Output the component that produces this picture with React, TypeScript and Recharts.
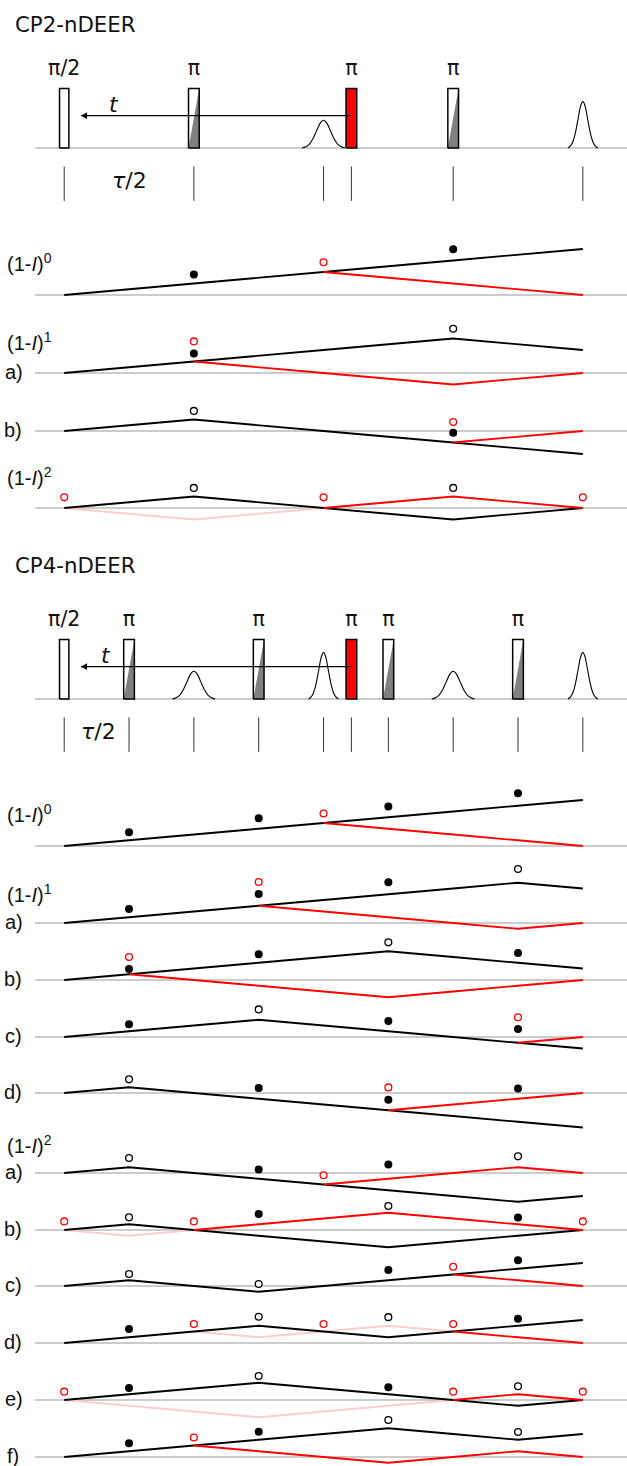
import { ComposedChart, Area, Line, XAxis, YAxis, ReferenceLine } from "recharts";

const WIDTH = 627;
const HEIGHT = 1466;

// horizontal layout: time step 0 sits at x0, every step is stepPx wide
const x0 = 64.2;
const stepPx = 64.83;
const timeDomain = [-x0 / stepPx, (WIDTH - x0) / stepPx];
const timeToPx = (t: number) => x0 + t * stepPx;

const BLACK = "#000000";
const RED = "#ff0000";
const PALE = "#ffcccc";
const RULE = "#999999";

type Path = (number | null)[];

// ---- CP2 -----------------------------------------------------------------
const cp2Times = [0, 2, 4, 6, 8];
const cp2Baselines = [294.5, 373.4, 431, 508.4];
const cp2Black: Path[] = [
  [0, 2, 4, 6, 8],
  [0, 2, 4, 6, 4],
  [0, 2, 0, -2, -4],
  [0, 2, 0, -2, 0],
];
const cp2Red: Path[] = [
  [null, null, 4, 2, 0],
  [null, 2, 0, -2, 0],
  [null, null, null, -2, 0],
  [null, null, 0, 2, 0],
];
const cp2Pale: Path[] = [
  [null, null, null, null, null],
  [null, null, null, null, null],
  [null, null, null, null, null],
  [0, -2, 0, null, null],
];
const cp2Filled: Path[] = [
  [null, 3.57, null, 7.97, null],
  [null, 3.4, null, null, null],
  [null, null, null, -0.3, null],
  [null, null, null, null, null],
];
const cp2Open: Path[] = [
  [null, null, null, null, null],
  [null, null, null, 7.7, null],
  [null, 3.5, null, null, null],
  [null, 3.5, null, 3.5, null],
];
const cp2RedOpen: Path[] = [
  [null, null, 5.7, null, null],
  [null, 5.5, null, null, null],
  [null, null, null, 1.57, null],
  [1.85, null, 1.85, null, 1.85],
];
const cp2FlipCentres = [2, 6];
const cp2SoftCentres = [4, 8];
const cp2SoftHeights = [0.466, 0.78];
const cp2SoftSpans = [0.33, 0.23];
const cp2TickTimes = [0, 2, 4, 4.43, 6, 8];

// ---- CP4 -----------------------------------------------------------------
const cp4Times = [0, 1, 2, 3, 4, 5, 6, 7, 8];
const cp4Baselines = [845.5, 923, 979.7, 1036.7, 1093.3, 1172.7, 1229.7, 1286, 1343.3, 1400, 1457];
const n = null;
const cp4Black: Path[] = [
  [0, 1, 2, 3, 4, 5, 6, 7, 8],
  [0, 1, 2, 3, 4, 5, 6, 7, 6],
  [0, 1, 2, 3, 4, 5, 4, 3, 2],
  [0, 1, 2, 3, 2, 1, 0, -1, -2],
  [0, 1, 0, -1, -2, -3, -4, -5, -6],
  [0, 1, 0, -1, -2, -3, -4, -5, -4],
  [0, 1, 0, -1, -2, -3, -2, -1, 0],
  [0, 1, 0, -1, 0, 1, 2, 3, 4],
  [0, 1, 2, 3, 2, 1, 2, 3, 4],
  [0, 1, 2, 3, 2, 1, 0, -1, 0],
  [0, 1, 2, 3, 4, 5, 4, 3, 4],
];
const cp4Red: Path[] = [
  [n, n, n, n, 4, 3, 2, 1, 0],
  [n, n, n, 3, 2, 1, 0, -1, 0],
  [n, 1, 0, -1, -2, -3, -2, -1, 0],
  [n, n, n, n, n, n, n, -1, 0],
  [n, n, n, n, n, -3, -2, -1, 0],
  [n, n, n, n, -2, -1, 0, 1, 0],
  [n, n, 0, 1, 2, 3, 2, 1, 0],
  [n, n, n, n, n, n, 2, 1, 0],
  [n, n, n, n, n, n, 2, 1, 0],
  [n, n, n, n, n, n, 0, 1, 0],
  [n, n, 2, 1, 0, -1, 0, 1, 0],
];
const cp4Pale: Path[] = [
  [n, n, n, n, n, n, n, n, n],
  [n, n, n, n, n, n, n, n, n],
  [n, n, n, n, n, n, n, n, n],
  [n, n, n, n, n, n, n, n, n],
  [n, n, n, n, n, n, n, n, n],
  [n, n, n, n, n, n, n, n, n],
  [0, -1, 0, n, n, n, n, n, n],
  [n, n, n, n, n, n, n, n, n],
  [n, n, 2, 1, 2, 3, 2, n, n],
  [0, -1, -2, -3, -2, -1, 0, n, n],
  [n, n, n, n, n, n, n, n, n],
];
const cp4Filled: Path[] = [
  [n, 2.4, n, 4.83, n, 6.87, n, 9.18, n],
  [n, 2.43, n, 5.04, n, 7.08, n, n, n],
  [n, 1.9, n, 4.5, n, n, n, 4.7, n],
  [n, 2.2, n, n, n, 2.8, n, 1.4, n],
  [n, n, n, 0.87, n, -1.17, n, 0.8, n],
  [n, n, n, 0.6, n, 1.5, n, n, n],
  [n, n, n, 2.8, n, n, n, 2.16, n],
  [n, n, n, n, n, 2.8, n, 4.47, n],
  [n, 2.43, n, n, n, n, n, 4.2, n],
  [n, 2.1, n, n, n, 2.2, n, n, n],
  [n, 2.4, n, 4.4, n, n, n, n, n],
];
const cp4Open: Path[] = [
  [n, n, n, n, n, n, n, n, n],
  [n, n, n, n, n, n, n, 9.39, n],
  [n, n, n, n, n, 6.55, n, n, n],
  [n, n, n, 4.8, n, n, n, n, n],
  [n, 2.37, n, n, n, n, n, n, n],
  [n, 2.6, n, n, n, n, n, 2.9, n],
  [n, 2.2, n, n, n, 4.17, n, n, n],
  [n, 2.1, n, 0.35, n, n, n, n, n],
  [n, n, n, 4.57, n, 4.5, n, n, n],
  [n, n, n, 4.17, n, n, n, 2.4, n],
  [n, n, n, n, n, 6.43, n, 4.35, n],
];
const cp4RedOpen: Path[] = [
  [n, n, n, n, 5.65, n, n, n, n],
  [n, n, n, 7.13, n, n, n, n, n],
  [n, 4, n, n, n, n, n, n, n],
  [n, n, n, n, n, n, n, 3.43, n],
  [n, n, n, n, n, 0.97, n, n, n],
  [n, n, n, n, -0.4, n, n, n, n],
  [1.5, n, 1.5, n, n, n, n, n, 1.5],
  [n, n, n, n, n, n, 3.36, n, n],
  [n, n, 3.3, n, 3.3, n, 3.3, n, n],
  [1.45, n, n, n, n, n, 1.45, n, 1.45],
  [n, n, 3.4, n, n, n, n, n, n],
];
const cp4FlipCentres = [1, 3, 5, 7];
const cp4SoftCentres = [2, 4, 6, 8];
const cp4SoftHeights = [0.466, 0.78, 0.466, 0.78];
const cp4SoftSpans = [0.33, 0.23, 0.33, 0.23];
const cp4TickTimes = [0, 1, 2, 3, 4, 4.43, 5, 6, 7, 8];

// ---- shared pulse shapes --------------------------------------------------
const pumpCentre = 4.43;
const softOffsets = [-1, -0.83, -0.67, -0.5, -0.33, -0.17, 0, 0.17, 0.33, 0.5, 0.67, 0.83, 1];
const softProfile = [0, 0.045, 0.135, 0.325, 0.61, 0.88, 1, 0.88, 0.61, 0.325, 0.135, 0.045, 0];

const toPoints = (times: number[], values: Path) =>
  times.flatMap((t, i) => (values[i] === null ? [] : [{ t, v: values[i] as number }]));

const rowProps = { stroke: BLACK, strokeWidth: 1.8, dot: false, isAnimationActive: false, type: "linear" as const };

const PX_PER_UNIT = 5.75;
const ROW_ABOVE = 80;
const ROW_BELOW = 40;

function PhaseRow({ base, times, black, red, pale, filled, open, redOpen }: any) {
  return (
    <div style={{ position: "absolute", left: 0, top: base - ROW_ABOVE }}>
      <ComposedChart width={WIDTH} height={ROW_ABOVE + ROW_BELOW} margin={{ top: 0, right: 0, bottom: 0, left: 0 }}>
        <XAxis type="number" dataKey="t" domain={timeDomain} hide allowDataOverflow />
        <YAxis type="number" dataKey="v" domain={[-ROW_BELOW / PX_PER_UNIT, ROW_ABOVE / PX_PER_UNIT]} hide allowDataOverflow />
        <ReferenceLine
          stroke={RULE}
          strokeWidth={1}
          segment={[
            { x: (35 - x0) / stepPx, y: 0 },
            { x: timeDomain[1], y: 0 },
          ]}
        />
        <Line {...rowProps} data={toPoints(times, pale)} dataKey="v" stroke={PALE} />
        <Line {...rowProps} data={toPoints(times, black)} dataKey="v" />
        <Line {...rowProps} data={toPoints(times, red)} dataKey="v" stroke={RED} />
        <Line {...rowProps} data={toPoints(times, filled)} dataKey="v" stroke="none" dot={{ r: 4, fill: BLACK, stroke: "none" }} />
        <Line {...rowProps} data={toPoints(times, open)} dataKey="v" stroke="none" dot={{ r: 3.4, fill: "#fff", stroke: BLACK, strokeWidth: 1.3 }} />
        <Line {...rowProps} data={toPoints(times, redOpen)} dataKey="v" stroke="none" dot={{ r: 3.4, fill: "#fff", stroke: RED, strokeWidth: 1.3 }} />
      </ComposedChart>
    </div>
  );
}

const BOX_PX = 59.4;
const PANEL_ABOVE = 80;
const PANEL_BELOW = 60;
const FLIP_HALF = 0.0825;
const NINETY_HALF = 0.072;
const ARROW_Y = 0.545;
const ARROW_TIP = 0.26;

const boxOutline = (c: number, half: number) => [
  { t: c - half, v: 0 },
  { t: c - half, v: 1 },
  { t: c + half, v: 1 },
  { t: c + half, v: 0 },
  { t: c - half, v: 0 },
];

const ArrowHead = (props: any) =>
  props.index === 0 ? (
    <path key="head" d={`M${props.cx},${props.cy} l6,-3.4 l0,6.8 z`} fill={BLACK} />
  ) : (
    <g key={props.index} />
  );

function PulsePanel({ base, flips, softCentres, softHeights, softSpans, tickTimes }: any) {
  const lineProps = { dataKey: "v", stroke: BLACK, dot: false, isAnimationActive: false, type: "linear" as const };
  return (
    <div style={{ position: "absolute", left: 0, top: base - PANEL_ABOVE }}>
      <ComposedChart width={WIDTH} height={PANEL_ABOVE + PANEL_BELOW} margin={{ top: 0, right: 0, bottom: 0, left: 0 }}>
        <XAxis type="number" dataKey="t" domain={timeDomain} hide allowDataOverflow />
        <YAxis type="number" dataKey="v" domain={[-PANEL_BELOW / BOX_PX, PANEL_ABOVE / BOX_PX]} hide allowDataOverflow />
        <ReferenceLine
          stroke={RULE}
          strokeWidth={1}
          segment={[
            { x: (35 - x0) / stepPx, y: 0 },
            { x: timeDomain[1], y: 0 },
          ]}
        />
        {flips.map((c: number) => (
          <Area
            key={`fill-${c}`}
            data={[
              { t: c - FLIP_HALF, v: 0 },
              { t: c + FLIP_HALF, v: 1 },
            ]}
            dataKey="v"
            baseValue={0}
            type="linear"
            fill="#808080"
            fillOpacity={1}
            stroke="none"
            isAnimationActive={false}
          />
        ))}
        <Area
          data={[
            { t: pumpCentre - FLIP_HALF, v: 1 },
            { t: pumpCentre + FLIP_HALF, v: 1 },
          ]}
          dataKey="v"
          baseValue={0}
          type="linear"
          fill={RED}
          fillOpacity={1}
          stroke="none"
          isAnimationActive={false}
        />
        <Line {...lineProps} data={boxOutline(0, NINETY_HALF)} strokeWidth={1.5} />
        {[...flips, pumpCentre].map((c: number) => (
          <Line key={`box-${c}`} {...lineProps} data={boxOutline(c, FLIP_HALF)} strokeWidth={1.5} />
        ))}
        {softCentres.map((c: number, i: number) => (
          <Line
            key={`soft-${c}`}
            {...lineProps}
            type="monotone"
            strokeWidth={1.1}
            data={softOffsets.map((o, j) => ({ t: c + o * softSpans[i], v: softProfile[j] * softHeights[i] }))}
          />
        ))}
        {tickTimes.map((t: number) => (
          <Line
            key={`tick-${t}`}
            {...lineProps}
            stroke="#333333"
            strokeWidth={1}
            data={[
              { t, v: -0.31 },
              { t, v: -0.89 },
            ]}
          />
        ))}
        <Line
          {...lineProps}
          strokeWidth={1.2}
          dot={ArrowHead}
          data={[
            { t: ARROW_TIP, v: ARROW_Y },
            { t: pumpCentre, v: ARROW_Y },
          ]}
        />
      </ComposedChart>
    </div>
  );
}

const DEJAVU = "'DejaVu Sans'";
const LIBERATION = "'Liberation Sans'";
const INK = "#111111";

const Power = ({ y, exp }: { y: number; exp: number }) => (
  <text x={7} y={y} fontFamily={LIBERATION} fontSize={20} fill={INK}>
    (1-<tspan fontStyle="italic">I</tspan>)
    <tspan dy={-8} fontSize={14}>
      {exp}
    </tspan>
  </text>
);

const Letter = ({ x, y, s }: { x: number; y: number; s: string }) => (
  <text x={x} y={y} fontFamily={LIBERATION} fontSize={20} fill={INK}>
    {s}
  </text>
);

const Pi = ({ t, y, s = "π" }: { t: number; y: number; s?: string }) => (
  <text x={timeToPx(t)} y={y} textAnchor="middle" fontFamily={DEJAVU} fontSize={20.5} fill={INK}>
    {s}
  </text>
);

function Overlay() {
  return (
    <svg width={WIDTH} height={HEIGHT} style={{ position: "absolute", left: 0, top: 0 }}>
      <text x={15} y={32} fontFamily={DEJAVU} fontSize={21.3} fill={INK}>CP2-nDEER</text>
      <text x={15} y={573} fontFamily={DEJAVU} fontSize={21.3} fill={INK}>CP4-nDEER</text>

      <Pi t={0} y={75} s="π/2" />
      {[...cp2FlipCentres, pumpCentre].map((t) => (
        <Pi key={t} t={t} y={75} />
      ))}
      <Pi t={0} y={626} s="π/2" />
      {[...cp4FlipCentres, pumpCentre].map((t) => (
        <Pi key={t} t={t} y={626} />
      ))}

      <text x={109} y={112} fontFamily={DEJAVU} fontStyle="italic" fontSize={22} fill={INK}>t</text>
      <text x={101} y={663} fontFamily={DEJAVU} fontStyle="italic" fontSize={22} fill={INK}>t</text>
      <text x={112} y={188} fontFamily={DEJAVU} fontSize={22} fill={INK}>
        <tspan fontStyle="italic">τ</tspan>/2
      </text>
      <text x={81} y={739} fontFamily={DEJAVU} fontSize={22} fill={INK}>
        <tspan fontStyle="italic">τ</tspan>/2
      </text>

      <Power y={271} exp={0} />
      <Power y={350} exp={1} />
      <Power y={485} exp={2} />
      <Power y={822} exp={0} />
      <Power y={902} exp={1} />
      <Power y={1153} exp={2} />

      <Letter x={5} y={379} s="a)" />
      <Letter x={4} y={437} s="b)" />
      <Letter x={5} y={929} s="a)" />
      <Letter x={4} y={986} s="b)" />
      <Letter x={5} y={1043} s="c)" />
      <Letter x={4} y={1099} s="d)" />
      <Letter x={5} y={1179} s="a)" />
      <Letter x={4} y={1236} s="b)" />
      <Letter x={5} y={1292} s="c)" />
      <Letter x={4} y={1349} s="d)" />
      <Letter x={5} y={1406} s="e)" />
      <Letter x={7} y={1463} s="f)" />
    </svg>
  );
}

export default function App() {
  return (
    <div style={{ position: "absolute", left: 0, top: 0, width: WIDTH, height: HEIGHT, overflow: "hidden", background: "#fff" }}>
      <PulsePanel
        base={147.7}
        flips={cp2FlipCentres}
        softCentres={cp2SoftCentres}
        softHeights={cp2SoftHeights}
        softSpans={cp2SoftSpans}
        tickTimes={cp2TickTimes}
      />
      <PulsePanel
        base={698.7}
        flips={cp4FlipCentres}
        softCentres={cp4SoftCentres}
        softHeights={cp4SoftHeights}
        softSpans={cp4SoftSpans}
        tickTimes={cp4TickTimes}
      />
      {cp2Baselines.map((base, i) => (
        <PhaseRow
          key={`cp2-${i}`}
          base={base}
          times={cp2Times}
          black={cp2Black[i]}
          red={cp2Red[i]}
          pale={cp2Pale[i]}
          filled={cp2Filled[i]}
          open={cp2Open[i]}
          redOpen={cp2RedOpen[i]}
        />
      ))}
      {cp4Baselines.map((base, i) => (
        <PhaseRow
          key={`cp4-${i}`}
          base={base}
          times={cp4Times}
          black={cp4Black[i]}
          red={cp4Red[i]}
          pale={cp4Pale[i]}
          filled={cp4Filled[i]}
          open={cp4Open[i]}
          redOpen={cp4RedOpen[i]}
        />
      ))}
      <Overlay />
    </div>
  );
}
